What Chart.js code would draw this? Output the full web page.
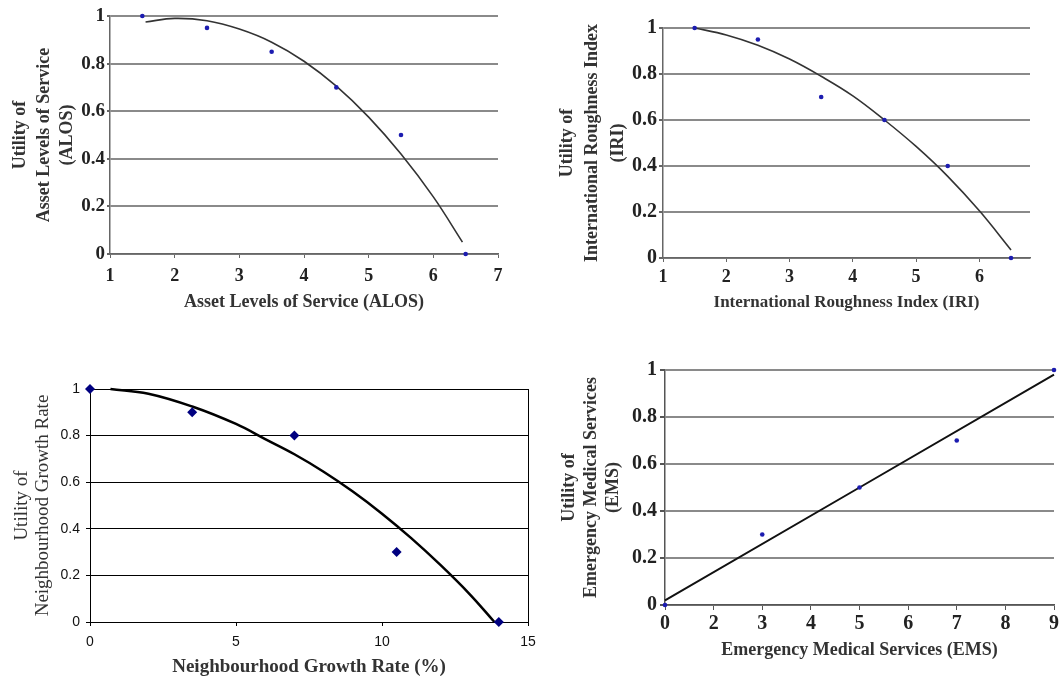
<!DOCTYPE html>
<html lang="en">
<head>
<meta charset="UTF-8" />
<title>Utility curves</title>
<script src="https://cdn.jsdelivr.net/npm/chart.js"></script>
<style>
  html, body { margin: 0; padding: 0; background: #fff; }
  body { width: 1061px; height: 680px; position: relative; overflow: hidden; }
  .box { position: absolute; }
</style>
</head>
<body>
<div class="box" style="left:0;top:0;width:530px;height:320px"><canvas id="alos"></canvas></div>
<div class="box" style="left:530px;top:0;width:531px;height:320px"><canvas id="iri"></canvas></div>
<div class="box" style="left:0;top:320px;width:545px;height:360px"><canvas id="ngr"></canvas></div>
<div class="box" style="left:530px;top:320px;width:531px;height:360px"><canvas id="ems"></canvas></div>

<script>
// ---- data ----
const alosX = [1.5, 2.5, 3.5, 4.5, 5.5, 6.5];
const alosY = [1.0, 0.95, 0.85, 0.7, 0.5, 0.0];
const alosFitX = [1.55, 2.0, 2.5, 3.0, 3.5, 4.0, 4.5, 5.0, 5.5, 6.0, 6.45];
const alosFitY = [0.975, 0.99, 0.98, 0.945, 0.89, 0.81, 0.705, 0.575, 0.42, 0.24, 0.05];

const iriX = [1.5, 2.5, 3.5, 4.5, 5.5, 6.5];
const iriY = [1.0, 0.95, 0.7, 0.6, 0.4, 0.0];
const iriFitX = [1.5, 2.0, 2.5, 3.0, 3.5, 4.0, 4.5, 5.0, 5.5, 6.0, 6.5];
const iriFitY = [1.0, 0.97, 0.925, 0.865, 0.79, 0.705, 0.6, 0.485, 0.355, 0.205, 0.035];

const ngrX = [0, 3.5, 7, 10.5, 14];
const ngrY = [1.0, 0.9, 0.8, 0.3, 0.0];
const ngrFitX = [0.7, 2, 3.5, 5, 6, 7, 8, 9, 10, 11, 12, 13, 13.85];
const ngrFitY = [1.0, 0.98, 0.925, 0.85, 0.785, 0.72, 0.645, 0.56, 0.465, 0.36, 0.245, 0.12, 0.0];

const emsLabels = ['0', '2', '3', '4', '5', '6', '7', '8', '9'];
const emsX = ['0', '3', '5', '7', '9'];
const emsY = [0.0, 0.3, 0.5, 0.7, 1.0];
const emsFitX = ['0', '9'];
const emsFitY = [0.02, 0.98];

const yTicks = [0, 0.2, 0.4, 0.6, 0.8, 1];

const serif = "'Liberation Serif', 'Times New Roman', serif";
const sans = "'Liberation Sans', Arial, sans-serif";

const pairs = (xs, ys) => xs.map((x, i) => ({ x, y: ys[i] }));

function makeChart(id, s) {
  new Chart(document.getElementById(id), {
    type: 'scatter',
    data: {
      labels: s.labels,
      datasets: [
        {
          data: pairs(s.px, s.py),
          pointStyle: s.pointStyle || 'circle',
          pointRadius: s.pointRadius,
          backgroundColor: s.pointColor,
          borderColor: s.pointColor,
          borderWidth: 0,
          clip: false,
        },
        {
          data: pairs(s.fx, s.fy),
          showLine: true,
          pointRadius: 0,
          borderColor: s.lineColor,
          borderWidth: s.lineWidth,
          tension: 0.4,
          clip: false,
        },
      ],
    },
    options: {
      responsive: true,
      maintainAspectRatio: false,
      animation: false,
      events: [],
      layout: { padding: s.pad },
      plugins: { legend: { display: false }, tooltip: { enabled: false } },
      scales: {
        x: {
          type: s.labels ? 'category' : 'linear',
          offset: false,
          min: s.xMin,
          max: s.xMax,
          afterFit: (sc) => { sc.height = s.xH; },
          afterBuildTicks: (sc) => {
            if (!s.labels) sc.ticks = sc.ticks.filter((t) => Number.isInteger(t.value));
          },
          ticks: { stepSize: s.xStep, padding: s.xPad, color: s.tickColor, font: s.tickFontX, autoSkip: false, maxRotation: 0 },
          grid: {
            drawOnChartArea: !!s.rightBorder,
            color: (c) => (s.rightBorder && c.tick && c.tick.value === s.xMax ? s.rightBorder : 'rgba(0,0,0,0)'),
            tickColor: s.axisColor,
            tickLength: s.xTickLen,
            lineWidth: 1,
          },
          border: { display: true, color: s.axisColor, width: s.axisWidth },
          title: {
            display: true,
            text: s.xTitle,
            color: s.titleColor,
            font: s.xTitleFont,
            padding: { top: 0, bottom: s.xTitlePad },
          },
        },
        y: {
          min: 0,
          max: 1,
          afterFit: (sc) => { sc.width = s.yW; },
          afterBuildTicks: (sc) => { sc.ticks = yTicks.map((v) => ({ value: v })); },
          ticks: { padding: s.yPad, color: s.tickColor, font: s.tickFontY, callback: (v) => String(v) },
          grid: { color: s.gridColor, lineWidth: s.gridWidth, tickLength: s.yTickLen, tickColor: s.axisColor },
          border: { display: true, color: s.axisColor, width: s.axisWidth },
          title: {
            display: true,
            text: s.yTitle,
            color: s.titleColor,
            font: s.yTitleFont,
            padding: { top: s.yTitlePad, bottom: 0 },
          },
        },
      },
    },
  });
}

makeChart('alos', {
  px: alosX, py: alosY, fx: alosFitX, fy: alosFitY,
  pointRadius: 2.3, pointColor: '#1c1cb0', lineColor: '#333', lineWidth: 1.6,
  pad: { top: 16, right: 32, left: 0, bottom: 0 },
  xMin: 1, xMax: 7, xStep: 1, xH: 66, yW: 110,
  xPad: 8, xTickLen: 4, yPad: 2, yTickLen: 3,
  tickColor: '#222', axisColor: '#666', axisWidth: 1.5, gridColor: '#8a8a8a', gridWidth: 2,
  tickFontX: { family: serif, size: 18, weight: 'bold' },
  tickFontY: { family: serif, size: 19, weight: 'bold' },
  titleColor: '#333',
  xTitle: 'Asset Levels of Service (ALOS)', xTitleFont: { family: serif, size: 18, weight: 'bold' }, xTitlePad: 7,
  yTitle: ['Utility of', 'Asset Levels of Service', '(ALOS)'],
  yTitleFont: { family: serif, size: 18, weight: 'bold', lineHeight: 1.3 }, yTitlePad: 9,
});

makeChart('iri', {
  px: iriX, py: iriY, fx: iriFitX, fy: iriFitY,
  pointRadius: 2.3, pointColor: '#1c1cb0', lineColor: '#333', lineWidth: 1.6,
  pad: { top: 28, right: 31, left: 0, bottom: 0 },
  xMin: 1, xMax: 6.8, xStep: 1, xH: 62, yW: 133,
  xPad: 5, xTickLen: 4, yPad: 2, yTickLen: 4,
  tickColor: '#222', axisColor: '#666', axisWidth: 1.5, gridColor: '#8a8a8a', gridWidth: 2,
  tickFontX: { family: serif, size: 18, weight: 'bold' },
  tickFontY: { family: serif, size: 20, weight: 'bold' },
  titleColor: '#333',
  xTitle: 'International Roughness Index (IRI)', xTitleFont: { family: serif, size: 17, weight: 'bold' }, xTitlePad: 7,
  yTitle: ['Utility of', 'International Roughness Index', '(IRI)'],
  yTitleFont: { family: serif, size: 18, weight: 'bold', lineHeight: 1.4 }, yTitlePad: 25,
});

makeChart('ngr', {
  px: ngrX, py: ngrY, fx: ngrFitX, fy: ngrFitY,
  pointStyle: 'rectRot', pointRadius: 5, pointColor: '#000080', lineColor: '#000', lineWidth: 2.5,
  pad: { top: 69, right: 17, left: 0, bottom: 0 },
  xMin: 0, xMax: 15, xStep: 5, xH: 58, yW: 90,
  xPad: 8, xTickLen: 4, yPad: 6, yTickLen: 4,
  tickColor: '#111', axisColor: '#000', axisWidth: 1, gridColor: '#000', gridWidth: 1, rightBorder: '#000',
  tickFontX: { family: sans, size: 14 },
  tickFontY: { family: sans, size: 14 },
  titleColor: '#333',
  xTitle: 'Neighbourhood Growth Rate (%)', xTitleFont: { family: serif, size: 19, weight: 'bold' }, xTitlePad: 2,
  yTitle: ['Utility of', 'Neighbourhood Growth Rate'],
  yTitleFont: { family: serif, size: 19, lineHeight: 1.1 }, yTitlePad: 12,
});

makeChart('ems', {
  labels: emsLabels,
  px: emsX, py: emsY, fx: emsFitX, fy: emsFitY,
  pointRadius: 2.3, pointColor: '#1c1cb0', lineColor: '#111', lineWidth: 2,
  pad: { top: 50, right: 5, left: 0, bottom: 0 },
  xH: 75, yW: 135,
  xPad: 2, xTickLen: 5, yPad: 3, yTickLen: 5,
  tickColor: '#222', axisColor: '#555', axisWidth: 1.5, gridColor: '#8a8a8a', gridWidth: 2,
  tickFontX: { family: serif, size: 20, weight: 'bold' },
  tickFontY: { family: serif, size: 20, weight: 'bold' },
  titleColor: '#333',
  xTitle: 'Emergency Medical Services (EMS)', xTitleFont: { family: serif, size: 18, weight: 'bold' }, xTitlePad: 19,
  yTitle: ['Utility of', 'Emergency Medical Services', '(EMS)'],
  yTitleFont: { family: serif, size: 18, weight: 'bold', lineHeight: 1.2 }, yTitlePad: 29,
});
</script>
</body>
</html>
